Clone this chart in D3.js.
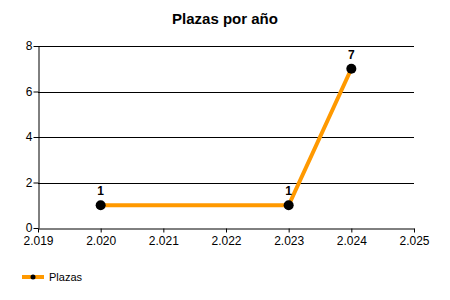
<!DOCTYPE html>
<html>
<head>
<meta charset="utf-8">
<script src="https://cdn.jsdelivr.net/npm/d3@7"></script>
<style>
  body { margin: 0; background: #fff; }
  text { font-family: "Liberation Sans", Arial, sans-serif; }
</style>
</head>
<body>
<div id="chart"></div>
<script>
// Data
const years = [2020, 2023, 2024];
const plazas = [1, 1, 7];
const xTicks = [2019, 2020, 2021, 2022, 2023, 2024, 2025];
const yTicks = [0, 2, 4, 6, 8];
const seriesName = 'Plazas';

const W = 450, H = 300;
const margin = { top: 46, right: 36, bottom: 72, left: 38 };
const width = W - margin.left - margin.right;
const height = H - margin.top - margin.bottom;

const es = d3.formatLocale({ decimal: ',', thousands: '.', grouping: [3], currency: ['', ' €'] });
const fmtYear = es.format(',d');

const svg = d3.select('#chart').append('svg')
  .attr('width', W)
  .attr('height', H);

const g = svg.append('g')
  .attr('transform', `translate(${margin.left},${margin.top})`);

const x = d3.scaleLinear().domain([2019, 2025]).range([0, width]);
const y = d3.scaleLinear().domain([0, 8]).range([height, 0]);

// Title
svg.append('text')
  .attr('x', W / 2)
  .attr('y', 24)
  .attr('text-anchor', 'middle')
  .style('font-size', '15px')
  .style('font-weight', 'bold')
  .text('Plazas por año');

// Gridlines
g.append('g')
  .selectAll('line')
  .data(yTicks.filter((d) => d > 0))
  .enter()
  .append('line')
  .attr('x1', 0)
  .attr('x2', width)
  .attr('y1', (d) => Math.round(y(d)) + 0.5)
  .attr('y2', (d) => Math.round(y(d)) + 0.5)
  .attr('stroke', '#000');

// Y axis
const yAxis = g.append('g')
  .attr('transform', 'translate(0.5,0)')
  .call(d3.axisLeft(y).tickValues(yTicks).tickSize(5).tickSizeOuter(0));
yAxis.select('.domain').attr('stroke', '#000');
yAxis.selectAll('text').style('font-size', '12px').attr('x', -6).attr('dy', '0.3em').attr('fill', '#000');

// X axis
const xAxis = g.append('g')
  .attr('transform', `translate(0,${Math.round(height) + 0.5})`)
  .call(d3.axisBottom(x).tickValues(xTicks).tickFormat(fmtYear).tickSize(4).tickSizeOuter(0));
xAxis.selectAll('text').style('font-size', '12px').attr('y', 8).attr('fill', '#000');

const data = years.map((d, i) => ({ year: d, value: plazas[i] }));

// Line
g.append('path')
  .datum(data)
  .attr('fill', 'none')
  .attr('stroke', '#FF9900')
  .attr('stroke-width', 4)
  .attr('d', d3.line().x((d) => x(d.year)).y((d) => y(d.value)));

// Points
g.selectAll('circle.pt')
  .data(data)
  .enter()
  .append('circle')
  .attr('class', 'pt')
  .attr('cx', (d) => x(d.year))
  .attr('cy', (d) => y(d.value))
  .attr('r', 5)
  .attr('fill', '#000');

// Value labels
g.selectAll('text.lbl')
  .data(data)
  .enter()
  .append('text')
  .attr('class', 'lbl')
  .attr('x', (d) => x(d.year))
  .attr('y', (d) => y(d.value) - 10)
  .attr('text-anchor', 'middle')
  .style('font-size', '12px')
  .style('font-weight', 'bold')
  .text((d) => d.value);

// Legend
const legend = svg.append('g').attr('transform', 'translate(22,277)');
legend.append('line')
  .attr('x1', 0).attr('x2', 22)
  .attr('stroke', '#FF9900')
  .attr('stroke-width', 4);
legend.append('circle')
  .attr('cx', 11).attr('r', 2.5)
  .attr('fill', '#000');
legend.append('text')
  .attr('x', 27)
  .attr('y', 4)
  .style('font-size', '11px')
  .text(seriesName);
</script>
</body>
</html>
